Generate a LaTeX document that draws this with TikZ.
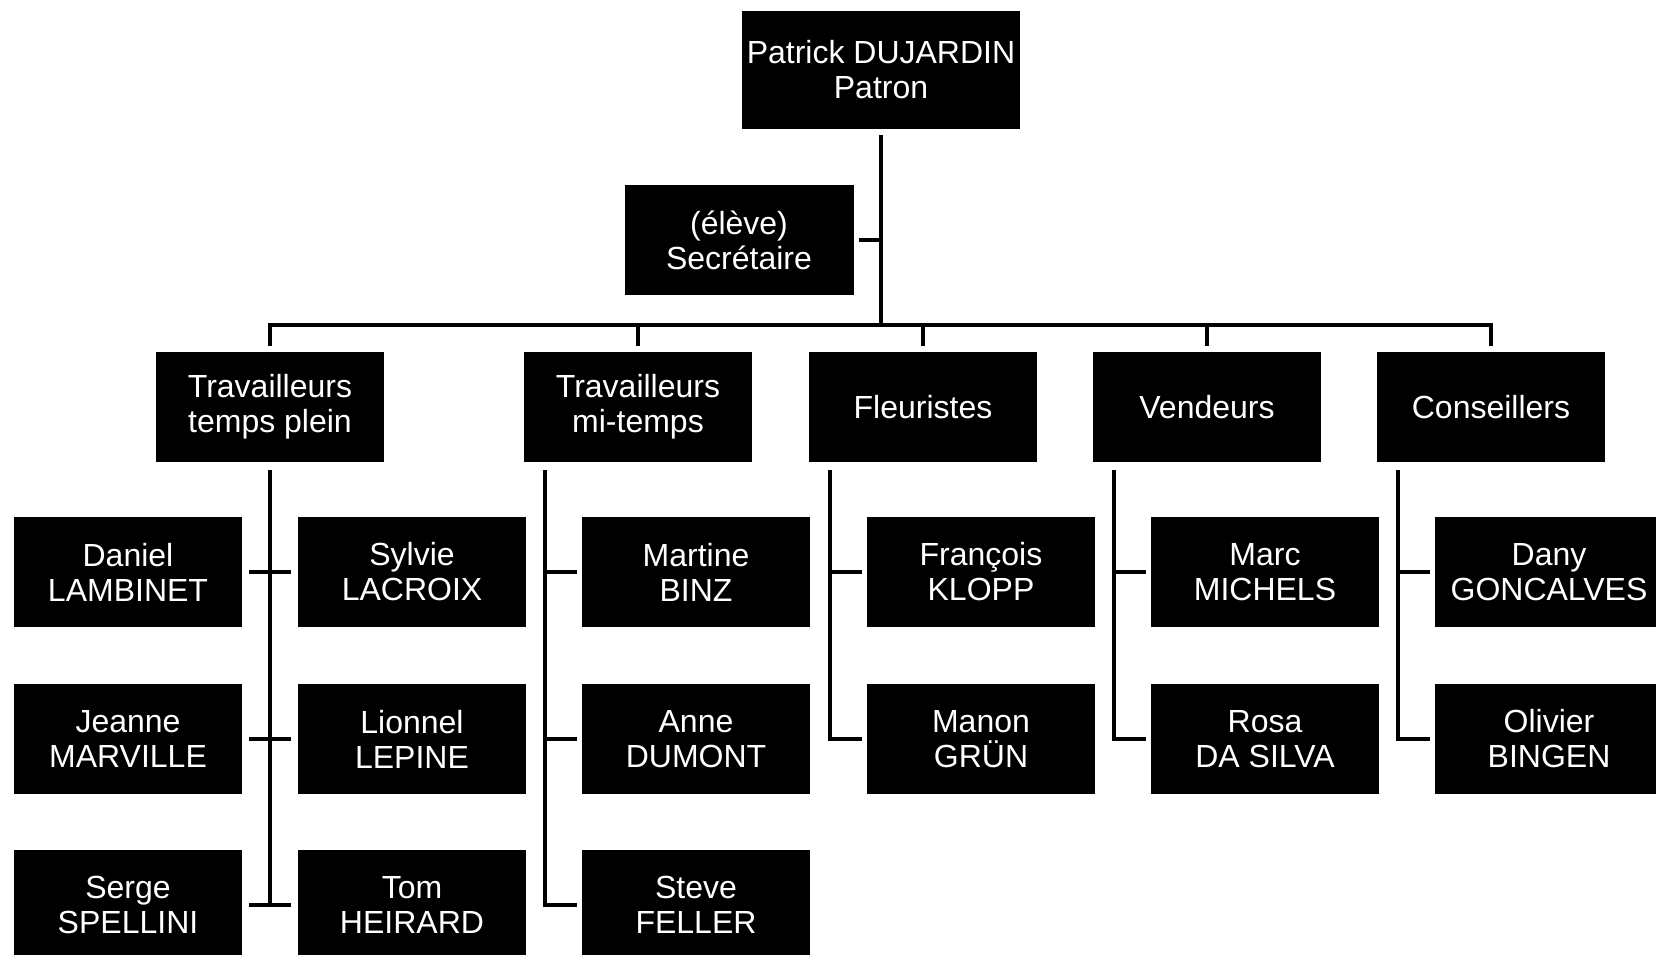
\documentclass[tikz,border=0pt]{standalone}
\usepackage{fontspec}
\setmainfont{Liberation Sans}
\usepackage{tikz}
\usetikzlibrary{positioning, calc}

\begin{document}
\begin{tikzpicture}[
    x=1pt, y=-1pt,
    box/.style={fill=black, text=white, align=center, inner sep=0pt,
        minimum width=228pt, minimum height=110pt, font=\fontsize{32}{35}\selectfont},
    bossbox/.style={box, minimum width=278pt, minimum height=118pt},
    link/.style={draw=black, line width=4.5pt}
]
    \useasboundingbox (0,0) rectangle (1656,955);

    % Top
    \node[bossbox] (boss) at (881,70) {Patrick DUJARDIN\\Patron};
    \node[box, minimum width=229pt] (sec) at (739,240) {(élève)\\Secrétaire};

    % Groups
    \node[box] (ttp) at (270,407) {Travailleurs\\temps plein};
    \node[box] (tmt) at (638,407) {Travailleurs\\mi-temps};
    \node[box] (fle) at (923,407) {Fleuristes};
    \node[box] (ven) at (1207,407) {Vendeurs};
    \node[box] (con) at (1491,407) {Conseillers};

    % People
    \node[box] (lambinet) at (128,572) {Daniel\\LAMBINET};
    \node[box] (lacroix) at (412,572) {Sylvie\\LACROIX};
    \node[box] (marville) at (128,739) {Jeanne\\MARVILLE};
    \node[box] (lepine) at (412,739) {Lionnel\\LEPINE};
    \node[box] (spellini) at (128,905) {Serge\\SPELLINI};
    \node[box] (heirard) at (412,905) {Tom\\HEIRARD};

    \node[box] (binz) at (696,572) {Martine\\BINZ};
    \node[box] (dumont) at (696,739) {Anne\\DUMONT};
    \node[box] (feller) at (696,905) {Steve\\FELLER};

    \node[box] (klopp) at (981,572) {François\\KLOPP};
    \node[box] (grun) at (981,739) {Manon\\GRÜN};

    \node[box] (michels) at (1265,572) {Marc\\MICHELS};
    \node[box] (dasilva) at (1265,739) {Rosa\\DA SILVA};

    \node[box] (goncalves) at (1549,572) {Dany\\GONCALVES};
    \node[box] (bingen) at (1549,739) {Olivier\\BINGEN};

    % Bus
    \coordinate (busL) at (ttp.north |- 0,325);
    \coordinate (busR) at (con.north |- 0,325);
    \draw[link, line cap=rect] (busL) -- (busR);
    \draw[link, shorten <=6pt] (boss.south) -- (boss.south |- busL);
    \draw[link, shorten <=5pt] (sec.east) -- (sec.east -| boss.south);
    \foreach \g in {ttp,tmt,fle,ven,con}
        \draw[link, shorten >=6pt] (\g.north |- busL) -- (\g.north);

    % Full-time branch
    \draw[link, shorten <=8pt] (ttp.south) -- (ttp.south |- spellini.east);
    \draw[link, shorten <=7pt, shorten >=7pt] (lambinet.east) -- (lacroix.west);
    \draw[link, shorten <=7pt, shorten >=7pt] (marville.east) -- (lepine.west);
    \draw[link, shorten <=7pt, shorten >=7pt] (spellini.east) -- (heirard.west);

    % Other branches
    \coordinate (tmtx) at ([shift={(21,8)}]tmt.south west);
    \draw[link] (tmtx) |- ([xshift=-5pt]feller.west);
    \draw[link] (binz.west -| tmtx) -- ([xshift=-5pt]binz.west);
    \draw[link] (dumont.west -| tmtx) -- ([xshift=-5pt]dumont.west);

    \coordinate (flex) at ([shift={(21,8)}]fle.south west);
    \draw[link] (flex) |- ([xshift=-5pt]grun.west);
    \draw[link] (klopp.west -| flex) -- ([xshift=-5pt]klopp.west);

    \coordinate (venx) at ([shift={(21,8)}]ven.south west);
    \draw[link] (venx) |- ([xshift=-5pt]dasilva.west);
    \draw[link] (michels.west -| venx) -- ([xshift=-5pt]michels.west);

    \coordinate (conx) at ([shift={(21,8)}]con.south west);
    \draw[link] (conx) |- ([xshift=-5pt]bingen.west);
    \draw[link] (goncalves.west -| conx) -- ([xshift=-5pt]goncalves.west);
\end{tikzpicture}
\end{document}
